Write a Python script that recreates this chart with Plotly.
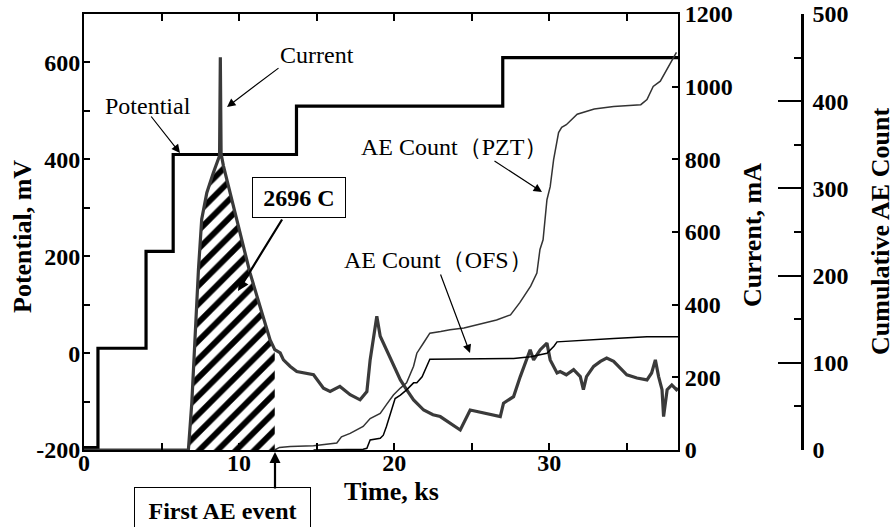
import plotly.graph_objects as go

# ---------------- data ----------------
# Potential step profile (mV), step changes at these times (ks)
pot_t = [0.0, 0.9, 4.0, 5.75, 13.7, 27.0, 38.3]
pot_mv = [-195, 10, 210, 410, 510, 610, 610]

# Current (mA)
cur_t = [0.0, 6.6, 6.73, 6.95, 7.16, 7.38, 7.59, 7.92, 8.34, 8.74, 8.79, 8.84, 8.99,
         9.42, 9.85, 10.28, 10.7, 11.35, 12.0, 12.3, 12.65, 12.86, 13.3, 13.72, 14.15,
         14.8, 15.44, 15.87, 16.5, 17.16, 17.8, 18.24, 18.45, 18.66, 18.88, 19.1, 19.5,
         19.95, 20.4, 20.8, 21.25, 21.9, 22.5, 22.97, 23.6, 24.26, 24.9, 25.98, 26.84,
         27.05, 27.7, 28.13, 28.56, 28.77, 28.99, 29.42, 29.85, 30.06, 30.5, 30.7, 31.1,
         31.57, 32.0, 32.2, 32.4, 32.86, 33.3, 33.7, 34.15, 34.6, 35.0, 35.65, 36.3,
         36.6, 36.84, 37.05, 37.27, 37.37, 37.6, 37.9, 38.2, 38.3]
cur_ma = [0, 0, 0, 129, 313, 497, 635, 708, 763, 810, 1081, 815, 782,
          708, 635, 561, 488, 395, 303, 276, 267, 248, 230, 216, 212,
          207, 170, 161, 175, 152, 138, 161, 248, 313, 368, 313, 276,
          230, 193, 166, 138, 110, 97, 92, 74, 55, 110, 101, 92,
          129, 147, 202, 248, 276, 248, 276, 294, 248, 212, 216, 207,
          221, 202, 166, 202, 230, 244, 253, 244, 225, 207, 198, 193,
          212, 248, 202, 166, 92, 166, 179, 166, 170]

# Integrated charge region (from current onset to first AE event)
charge_start = 6.73
first_ae_t = 12.3

# Cumulative AE count, PZT sensor
pzt_t = [12.3, 12.6, 13.3, 14.8, 16.3, 16.6, 17.16, 18.0, 18.45, 19.1, 19.5, 19.95,
         20.4, 20.8, 21.25, 21.46, 21.9, 22.3, 23.0, 23.6, 24.5, 25.5, 26.6, 27.5,
         28.1, 28.8, 29.2, 29.4, 29.6, 29.85, 30.06, 30.28, 30.5, 30.6, 30.8, 31.1,
         31.8, 32.9, 34.15, 35.9, 36.3, 36.7, 37.16, 37.6, 37.9, 38.2]
pzt_n = [0, 3, 4, 5, 8, 15, 19, 27, 36, 42, 52, 63,
         71, 77, 96, 111, 123, 134, 136, 138, 140, 144, 149, 155,
         169, 188, 203, 230, 241, 287, 302, 333, 356, 364, 370, 373,
         385, 391, 394, 396, 402, 417, 423, 437, 446, 456]

# Cumulative AE count, OFS sensor
ofs_t = [14.8, 18.0, 18.24, 18.45, 19.1, 19.3, 19.5, 19.74, 20.06, 20.4, 20.8, 21.25,
         21.46, 21.8, 22.1, 22.3, 27.7, 28.8, 29.85, 30.3, 30.5, 32.0, 34.15, 36.3, 38.3]
ofs_n = [0, 1, 2, 11.5, 13.4, 17, 27, 42, 59, 63, 69, 77,
         77, 84, 96, 104, 105, 107, 111, 119, 124, 126, 128, 130, 130]

x_ticks = [0, 10, 20, 30]
pot_ticks = [-200, 0, 200, 400, 600]
pot_labels = ["-200", "0", "200", "400", "600"]
cur_ticks = [0, 200, 400, 600, 800, 1000, 1200]
ae_ticks = [0, 100, 200, 300, 400, 500]

# ---------------- figure ----------------
W, H = 895, 527
SERIF = "Liberation Serif, Times New Roman, serif"


def px(x):
    return x / W


def py(y):
    return 1 - y / H


hatch_t = [t for t in cur_t if charge_start <= t <= first_ae_t]
hatch_i = [i for t, i in zip(cur_t, cur_ma) if charge_start <= t <= first_ae_t]

fig = go.Figure()

fig.add_trace(go.Scatter(
    x=hatch_t, y=hatch_i, yaxis="y2", mode="lines", fill="tozeroy",
    line=dict(width=0, color="rgba(0,0,0,0)"),
    fillcolor="white",
    fillpattern=dict(shape="/", size=13, solidity=0.45, fgcolor="black",
                     bgcolor="white", fgopacity=1),
    hoverinfo="skip", showlegend=False))

fig.add_trace(go.Scatter(x=ofs_t, y=ofs_n, yaxis="y3", mode="lines",
                         line=dict(color="black", width=1.5), showlegend=False))
fig.add_trace(go.Scatter(x=pzt_t, y=pzt_n, yaxis="y3", mode="lines",
                         line=dict(color="#333333", width=1.5), showlegend=False))
fig.add_trace(go.Scatter(x=pot_t, y=pot_mv, yaxis="y", mode="lines",
                         line=dict(color="black", width=3.2, shape="hv"),
                         showlegend=False))
fig.add_trace(go.Scatter(x=cur_t, y=cur_ma, yaxis="y2", mode="lines",
                         line=dict(color="#3a3a3a", width=3.2), showlegend=False))

tickfont = dict(family=SERIF, size=24, color="black", weight="bold")
dom_x = [px(84), px(678)]
dom_y = [py(450), py(14)]

fig.update_layout(
    width=W, height=H,
    margin=dict(l=0, r=0, t=0, b=0),
    paper_bgcolor="white", plot_bgcolor="white",
    showlegend=False,
    xaxis=dict(domain=dom_x, range=[0, 38.3], showline=True, linewidth=2,
               linecolor="black", mirror="ticks", ticks="inside", ticklen=7,
               tickwidth=1.5, tickcolor="black", tickvals=x_ticks,
               minor=dict(dtick=5, ticks="inside", ticklen=7, tickwidth=1.5,
                          tickcolor="black"),
               showgrid=False, zeroline=False, tickfont=tickfont,
               automargin=False, ticklabelstandoff=-10),
    yaxis=dict(domain=dom_y, range=[-200, 700], showline=True, linewidth=2,
               linecolor="black", ticks="inside", ticklen=6, tickwidth=1.5,
               tickcolor="black", tickvals=pot_ticks, ticktext=pot_labels,
               minor=dict(dtick=100, ticks="inside", ticklen=6, tickwidth=1.5,
                          tickcolor="black"),
               showgrid=False, zeroline=False, tickfont=tickfont,
               automargin=False, ticklabelstandoff=-3),
    yaxis2=dict(overlaying="y", side="right", anchor="x", range=[0, 1200],
                showline=True, linewidth=2, linecolor="black", ticks="inside",
                ticklen=6, tickwidth=1.5, tickcolor="black", tickvals=cur_ticks,
                showgrid=False, zeroline=False, tickfont=tickfont,
                automargin=False),
    yaxis3=dict(overlaying="y", side="right", anchor="free", position=px(802),
                range=[0, 500], showline=True, linewidth=2.5, linecolor="black",
                ticks="inside", ticklen=23, tickwidth=2, tickcolor="black",
                tickvals=ae_ticks,
                minor=dict(dtick=50, ticks="inside", ticklen=7, tickwidth=2,
                           tickcolor="black"),
                showgrid=False, zeroline=False, tickfont=tickfont,
                automargin=False, ticklabelstandoff=4),
)

ann = []
title_font = dict(family=SERIF, size=26, color="black", weight="bold")
text_font = dict(family=SERIF, size=24, color="black")

# axis titles
ann.append(dict(text="Potential, mV", x=px(22), y=py(237), textangle=-90,
                font=title_font))
ann.append(dict(text="Current, mA", x=px(752), y=py(235), textangle=-90,
                font=title_font))
ann.append(dict(text="Cumulative AE Count", x=px(881), y=py(232), textangle=-90,
                font=title_font))
ann.append(dict(text="Time, ks", x=px(391), y=py(491), font=title_font))

# labels
ann.append(dict(text="Current", x=px(317), y=py(55), font=text_font))
ann.append(dict(text="Potential", x=px(148), y=py(106), font=text_font))
ann.append(dict(text="AE Count（PZT）", x=px(455), y=py(147), font=text_font))
ann.append(dict(text="AE Count（OFS）", x=px(438), y=py(260), font=text_font))

# boxes
ann.append(dict(text="2696 C", x=px(299), y=py(197.5), width=88, height=35,
                font=dict(family=SERIF, size=24, color="black", weight="bold"),
                bordercolor="black", borderwidth=1, borderpad=2, bgcolor="white"))
ann.append(dict(text="First AE event", x=px(222.5), y=py(511), width=171, height=42,
                font=dict(family=SERIF, size=24, color="black", weight="bold"),
                bordercolor="black", borderwidth=1, borderpad=2, bgcolor="white"))

for a in ann:
    a.update(xref="paper", yref="paper", showarrow=False,
             xanchor="center", yanchor="middle")


def arrow(tx, ty, hx, hy, w=1.2, size=1.4):
    return dict(xref="paper", yref="paper", x=px(hx), y=py(hy),
                ax=tx - hx, ay=ty - hy, text="", showarrow=True,
                arrowhead=2, arrowsize=size, arrowwidth=w, arrowcolor="black")


ann += [
    arrow(280, 67, 227, 107),
    arrow(150, 115, 180, 153),
    arrow(283, 218, 238, 291, w=2.2, size=1.0),
    arrow(493, 160, 542, 192),
    arrow(440, 273, 470, 353),
    arrow(275, 490, 275, 452, w=2.2, size=1.0),
]

fig.update_layout(annotations=ann)
fig.write_html("out.html")
